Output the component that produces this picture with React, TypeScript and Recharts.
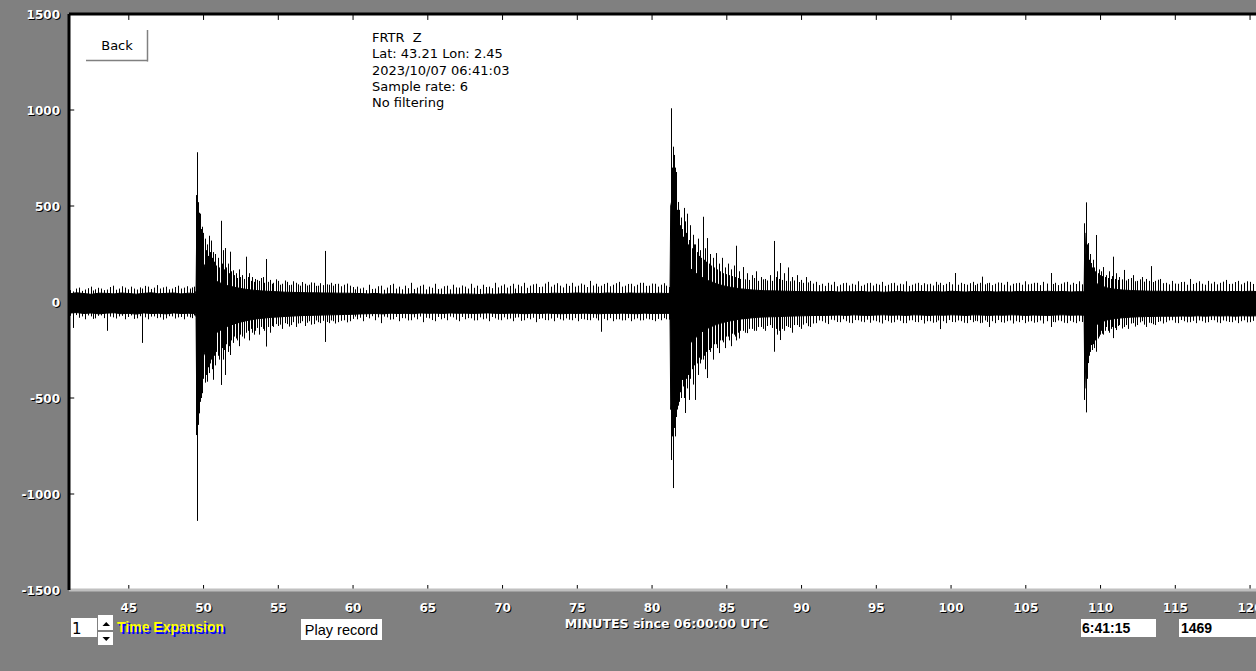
import { ComposedChart, Area, Bar, XAxis, YAxis, ReferenceLine } from "recharts";

// minutes since 06:00 UTC, counts
const minuteTicks = [45, 50, 55, 60, 65, 70, 75, 80, 85, 90, 95, 100, 105, 110, 115, 120];
const countTicks = [-1500, -1000, -500, 0, 500, 1000, 1500];

// solid part of the trace: [minute, top, bottom]
const preEvent1Band = [
  [41, 42, -58], [41.5, 48, -55], [42, 44, -60], [42.5, 40, -57], [43, 46, -62], [43.5, 45, -58],
  [44, 42, -56], [44.5, 47, -61], [45, 44, -59], [45.5, 41, -63], [46, 45, -57], [46.5, 48, -60],
  [47, 43, -59], [47.5, 45, -62], [48, 47, -57], [48.5, 42, -60], [49, 46, -59], [49.45, 44, -60],
];
const event1Band = [
  [49.5, 60, -80], [49.55, 450, -600], [49.65, 330, -430], [49.8, 260, -340], [50, 200, -280],
  [50.2, 165, -240], [50.4, 140, -210], [50.6, 125, -185], [50.8, 112, -165], [51, 102, -152],
  [51.3, 94, -140], [51.6, 86, -128], [52, 78, -115], [52.5, 70, -104], [53, 64, -95],
  [53.5, 60, -88], [54, 57, -84], [54.5, 55, -80], [55, 53, -78], [55.5, 51, -75], [56, 50, -73],
  [56.5, 49, -71], [57, 48, -70], [57.5, 48, -69], [58, 47, -68], [58.5, 47, -67], [59, 46, -66],
  [59.5, 46, -65], [60, 45, -64],
];
const quietBand = [
  [60.5, 44, -62], [61, 42, -61], [61.5, 45, -60], [62, 41, -62], [62.5, 43, -58], [63, 42, -60],
  [63.5, 40, -59], [64, 43, -61], [64.5, 41, -57], [65, 40, -59], [65.5, 42, -58], [66, 39, -60],
  [66.5, 41, -57], [67, 40, -59], [67.5, 42, -58], [68, 41, -60], [68.5, 39, -58], [69, 42, -57],
  [69.5, 40, -59], [70, 43, -60], [70.5, 41, -58], [71, 44, -59], [71.5, 42, -61], [72, 45, -58],
  [72.5, 43, -60], [73, 44, -58], [73.5, 46, -60], [74, 44, -61], [74.5, 45, -59], [75, 47, -60],
  [75.5, 45, -58], [76, 46, -60], [76.5, 44, -61], [77, 47, -59], [77.5, 45, -60], [78, 44, -58],
  [78.5, 47, -60], [79, 45, -61], [79.5, 46, -58], [80, 44, -60], [80.5, 46, -60], [81, 44, -59],
  [81.2, 46, -60],
];
const event2Band = [
  [81.25, 500, -560], [81.35, 540, -500], [81.45, 480, -560], [81.55, 360, -420], [81.75, 280, -330],
  [82, 235, -280], [82.3, 200, -240], [82.6, 172, -210], [83, 146, -180], [83.4, 126, -152],
  [83.8, 110, -134], [84.2, 98, -120], [84.6, 88, -110], [85, 80, -102], [85.5, 73, -94],
  [86, 68, -88], [86.5, 64, -84], [87, 61, -80], [87.5, 59, -78], [88, 58, -77], [88.5, 57, -76],
  [89, 56, -74], [89.5, 55, -73], [90, 54, -72], [90.5, 54, -71], [91, 53, -70],
];
const lateBand = [
  [91.5, 53, -70], [92, 55, -69], [92.5, 52, -68], [93, 54, -70], [93.5, 53, -67], [94, 55, -69],
  [94.5, 52, -70], [95, 54, -68], [95.5, 51, -67], [96, 53, -69], [96.5, 55, -68], [97, 52, -70],
  [97.5, 54, -67], [98, 55, -68], [98.5, 53, -70], [99, 54, -68], [99.5, 52, -69], [100, 56, -67],
  [100.5, 54, -68], [101, 52, -70], [101.5, 55, -67], [102, 53, -68], [102.5, 55, -70], [103, 52, -68],
  [103.5, 54, -69], [104, 52, -67], [104.5, 55, -68], [105, 53, -70], [105.5, 55, -68], [106, 54, -69],
  [106.5, 56, -70], [107, 53, -68], [107.5, 55, -67], [108, 52, -69], [108.5, 54, -68], [108.9, 53, -69],
];
const event3Band = [
  [108.95, 360, -450], [109.05, 210, -250], [109.2, 150, -180], [109.4, 120, -145], [109.7, 98, -120],
  [110, 85, -105], [110.5, 72, -92], [111, 66, -86], [111.5, 62, -82], [112, 60, -79],
  [112.5, 58, -77], [113, 57, -76], [113.5, 56, -75], [114, 56, -74], [114.5, 55, -74], [115, 56, -74],
  [115.5, 54, -73], [116, 56, -74], [116.5, 55, -72], [117, 56, -74], [117.5, 54, -72], [118, 56, -73],
  [118.5, 54, -72], [119, 55, -74], [119.5, 54, -72], [120, 56, -73], [120.5, 54, -72], [121, 55, -72],
];

// single excursions: [minute, top, bottom]
const preEvent1Spikes = [
  [41.1, 62, -72], [41.3, 55, -135], [41.5, 70, -68], [41.7, 75, -82], [41.9, 58, -75], [42.1, 65, -90],
  [42.3, 72, -70], [42.5, 80, -75], [42.65, 60, -88], [42.8, 66, -85], [43, 74, -72], [43.2, 70, -70],
  [43.4, 62, -84], [43.6, 65, -150], [43.8, 78, -76], [44, 85, -80], [44.2, 64, -86], [44.4, 70, -75],
  [44.6, 82, -72], [44.8, 75, -90], [45, 66, -78], [45.2, 80, -70], [45.4, 70, -88], [45.6, 65, -85],
  [45.75, 76, -74], [45.9, 70, -213], [46.1, 84, -80], [46.3, 80, -90], [46.5, 68, -76], [46.7, 75, -75],
  [46.9, 88, -84], [47.1, 70, -80], [47.3, 76, -92], [47.5, 80, -85], [47.7, 66, -74], [47.9, 70, -75],
  [48.1, 78, -86], [48.3, 85, -80], [48.5, 70, -78], [48.7, 75, -90], [48.9, 82, -76], [49.1, 70, -80],
  [49.25, 76, -84], [49.4, 80, -70],
];
const event1Spikes = [
  [49.52, 200, -330], [49.55, 557, -693], [49.58, 780, -1140], [49.62, 450, -600], [49.66, 520, -640],
  [49.7, 465, -545], [49.74, 420, -580], [49.78, 460, -520], [49.84, 380, -500], [49.9, 392, -475],
  [49.96, 300, -440], [50.02, 360, -400], [50.1, 330, -420], [50.17, 270, -380], [50.25, 300, -415],
  [50.32, 240, -340], [50.4, 345, -370], [50.46, 260, -320], [50.52, 320, -300], [50.58, 230, -350],
  [50.65, 260, -405], [50.72, 210, -280], [50.8, 250, -330], [50.9, 190, -260], [51, 230, -280],
  [51.1, 180, -300], [51.2, 423, -432], [51.28, 200, -240], [51.35, 270, -300], [51.42, 170, -250],
  [51.48, 281, -380], [51.56, 180, -220], [51.65, 200, -260], [51.72, 150, -230], [51.77, 262, -276],
  [51.88, 160, -200], [52, 165, -213], [52.1, 140, -180], [52.2, 150, -190], [52.3, 125, -200],
  [52.4, 170, -230], [52.5, 130, -170], [52.6, 140, -180], [52.75, 120, -190], [52.9, 236, -160],
  [53, 130, -150], [53.1, 150, -200], [53.2, 110, -140], [53.3, 130, -160], [53.4, 105, -170],
  [53.5, 120, -150], [53.62, 115, -135], [53.75, 110, -170], [53.88, 125, -130], [54, 130, -140],
  [54.1, 100, -150], [54.22, 224, -232], [54.33, 105, -130], [54.45, 115, -160], [54.58, 95, -125],
  [54.7, 100, -130], [54.85, 118, -115], [55, 110, -125], [55.15, 90, -118], [55.3, 95, -140],
  [55.45, 112, -110], [55.6, 105, -115], [55.75, 88, -128], [55.9, 90, -120], [56.05, 108, -105],
  [56.2, 100, -130], [56.35, 92, -112], [56.5, 85, -110], [56.65, 104, -100], [56.8, 95, -125],
  [56.95, 86, -108], [57.1, 90, -100], [57.25, 102, -118], [57.4, 100, -115], [57.55, 84, -96],
  [57.7, 85, -105], [57.85, 98, -110], [58, 88, -98], [58.15, 266, -208], [58.28, 92, -104],
  [58.4, 90, -110], [58.55, 100, -96], [58.7, 85, -100], [58.85, 94, -112], [59, 95, -105],
  [59.2, 82, -98], [59.4, 90, -95], [59.6, 96, -106], [59.8, 85, -100],
];
const quietSpikes = [
  [60, 78, -88], [60.15, 66, -76], [60.3, 80, -90], [60.5, 70, -82], [60.7, 75, -100], [60.9, 62, -78],
  [61.1, 90, -85], [61.3, 68, -74], [61.5, 70, -95], [61.7, 82, -80], [61.9, 85, -110], [62.1, 64, -76],
  [62.3, 75, -80], [62.5, 88, -92], [62.7, 95, -90], [62.9, 70, -78], [63.1, 80, -100], [63.3, 66, -84],
  [63.5, 85, -85], [63.7, 72, -96], [63.9, 100, -95], [64.1, 68, -80], [64.3, 75, -90], [64.5, 84, -76],
  [64.7, 90, -105], [64.9, 66, -82], [65.1, 80, -85], [65.3, 74, -94], [65.5, 95, -100], [65.7, 68, -78],
  [65.9, 70, -90], [66.1, 82, -84], [66.3, 85, -95], [66.5, 66, -76], [66.7, 90, -80], [66.9, 76, -92],
  [67.1, 75, -100], [67.3, 86, -78], [67.5, 80, -90], [67.7, 70, -84], [67.9, 95, -85], [68.1, 74, -96],
  [68.3, 85, -95], [68.5, 68, -80], [68.7, 90, -90], [68.9, 78, -86], [69.1, 80, -100], [69.3, 72, -78],
  [69.5, 100, -85], [69.7, 76, -92], [69.9, 85, -95], [70.1, 92, -80], [70.3, 75, -90], [70.5, 84, -86],
  [70.7, 95, -100], [70.9, 70, -82], [71.1, 90, -80], [71.3, 82, -98], [71.5, 100, -95], [71.7, 74, -84],
  [71.9, 85, -90], [72.1, 92, -82], [72.3, 95, -105], [72.5, 78, -88], [72.7, 80, -85], [72.9, 96, -94],
  [73.1, 105, -95], [73.3, 80, -86], [73.5, 90, -100], [73.7, 98, -82], [73.9, 85, -90], [74.1, 76, -96],
  [74.3, 95, -85], [74.5, 84, -92], [74.7, 100, -95], [74.9, 80, -84], [75.1, 85, -100], [75.3, 96, -88],
  [75.5, 90, -90], [75.7, 78, -94], [75.9, 110, -95], [76.1, 86, -82], [76.3, 95, -85], [76.45, 80, -96],
  [76.6, 85, -155], [76.8, 94, -88], [77, 100, -95], [77.2, 82, -84], [77.4, 90, -100], [77.6, 98, -90],
  [77.8, 105, -90], [78, 80, -96], [78.2, 85, -95], [78.4, 94, -84], [78.6, 95, -100], [78.8, 82, -90],
  [79, 90, -85], [79.2, 100, -96], [79.4, 100, -95], [79.6, 84, -86], [79.8, 85, -90], [80, 96, -94],
  [80.2, 95, -100], [80.4, 80, -88], [80.6, 90, -95], [80.8, 98, -84], [81, 85, -90], [81.15, 78, -92],
];
const event2Spikes = [
  [81.27, 1009, -823], [81.34, 700, -700], [81.42, 809, -969], [81.5, 766, -656], [81.54, 600, -700],
  [81.58, 700, -620], [81.65, 677, -599], [81.7, 480, -560], [81.75, 521, -480], [81.8, 420, -540],
  [81.85, 480, -520], [81.9, 400, -470], [81.95, 440, -460], [82, 360, -500], [82.05, 380, -406],
  [82.1, 340, -440], [82.15, 490, -500], [82.21, 330, -420], [82.27, 420, -578], [82.33, 360, -400],
  [82.4, 460, -450], [82.45, 300, -380], [82.5, 323, -510], [82.55, 360, -360], [82.6, 400, -400],
  [82.68, 280, -350], [82.75, 350, -430], [82.85, 300, -330], [82.94, 300, -510], [83.02, 260, -320],
  [83.1, 330, -380], [83.18, 240, -290], [83.25, 270, -320], [83.33, 230, -300], [83.41, 444, -300],
  [83.48, 220, -280], [83.55, 280, -350], [83.65, 210, -260], [83.74, 333, -396], [83.82, 200, -250],
  [83.9, 250, -260], [84, 190, -240], [84.1, 230, -300], [84.2, 180, -220], [84.3, 255, -220],
  [84.4, 170, -240], [84.5, 200, -266], [84.6, 160, -200], [84.7, 230, -200], [84.8, 150, -210],
  [84.9, 180, -240], [85, 145, -180], [85.1, 200, -180], [85.2, 140, -200], [85.3, 170, -230],
  [85.4, 135, -165], [85.5, 190, -170], [85.58, 130, -180], [85.66, 293, -200], [85.75, 125, -160],
  [85.85, 160, -190], [85.95, 120, -150], [86.1, 182, -150], [86.25, 118, -160], [86.4, 150, -162],
  [86.55, 115, -140], [86.7, 140, -140], [86.85, 125, -150], [87, 160, -150], [87.15, 110, -130],
  [87.3, 130, -130], [87.45, 118, -140], [87.6, 120, -150], [87.75, 112, -125], [87.9, 140, -120],
  [88.05, 110, -135], [88.22, 318, -259], [88.3, 130, -140], [88.4, 160, -170], [88.5, 120, -150],
  [88.6, 203, -198], [88.72, 115, -140], [88.85, 150, -150], [88.98, 110, -125], [89.1, 180, -130],
  [89.25, 108, -135], [89.4, 130, -160], [89.55, 112, -120], [89.7, 140, -120], [89.85, 104, -130],
  [90, 115, -140], [90.15, 100, -118], [90.3, 130, -110], [90.45, 102, -126], [90.6, 110, -130],
  [90.8, 96, -112],
];
const lateSpikes = [
  [91, 105, -110], [91.2, 88, -96], [91.4, 95, -100], [91.6, 84, -108], [91.8, 100, -115], [92, 90, -92],
  [92.2, 105, -95], [92.4, 82, -104], [92.6, 90, -105], [92.8, 98, -90], [93, 100, -100], [93.2, 86, -108],
  [93.4, 95, -110], [93.6, 90, -94], [93.8, 108, -95], [94, 84, -102], [94.2, 90, -105], [94.4, 98, -92],
  [94.6, 100, -108], [94.8, 86, -96], [95, 95, -100], [95.2, 90, -106], [95.4, 105, -112], [95.6, 84, -94],
  [95.8, 90, -100], [96, 98, -108], [96.2, 100, -105], [96.4, 86, -92], [96.6, 95, -98], [96.8, 92, -110],
  [97, 108, -110], [97.2, 84, -96], [97.4, 90, -95], [97.6, 96, -104], [97.8, 100, -105], [98, 88, -94],
  [98.2, 98, -112], [98.4, 92, -100], [98.6, 95, -100], [98.8, 86, -108], [99, 105, -105], [99.15, 90, -96],
  [99.3, 100, -141], [99.5, 88, -100], [99.7, 95, -110], [99.9, 104, -94], [100.1, 92, -104], [100.3, 151, -105],
  [100.5, 90, -96], [100.7, 100, -100], [100.9, 94, -108], [101.1, 90, -110], [101.3, 98, -94],
  [101.5, 105, -105], [101.65, 88, -98], [101.8, 95, -100], [101.95, 100, -110], [102.1, 132, -108],
  [102.3, 92, -96], [102.45, 98, -104], [102.6, 100, -130], [102.8, 88, -100], [103, 95, -110],
  [103.2, 102, -94], [103.4, 100, -105], [103.6, 90, -108], [103.8, 105, -100], [104, 86, -96],
  [104.2, 95, -112], [104.4, 98, -100], [104.6, 100, -105], [104.8, 90, -94], [105, 108, -110],
  [105.2, 92, -102], [105.4, 95, -100], [105.6, 100, -108], [105.8, 100, -105], [106, 88, -96],
  [106.2, 105, -112], [106.45, 96, -100], [106.7, 151, -130], [106.85, 94, -104], [107, 100, -105],
  [107.2, 88, -96], [107.4, 95, -100], [107.6, 102, -108], [107.8, 105, -110], [108, 90, -98],
  [108.2, 100, -105], [108.4, 94, -110], [108.6, 108, -100], [108.8, 92, -104],
];
const event3Spikes = [
  [108.96, 410, -510], [109.03, 519, -575], [109.07, 380, -460], [109.1, 300, -400], [109.14, 260, -350],
  [109.18, 307, -318], [109.24, 220, -280], [109.3, 250, -260], [109.35, 190, -230], [109.4, 203, -224],
  [109.45, 180, -250], [109.5, 220, -200], [109.55, 170, -220], [109.6, 180, -240], [109.68, 160, -200],
  [109.76, 349, -259], [109.83, 150, -190], [109.9, 170, -180], [109.98, 140, -170], [110.05, 160, -150],
  [110.12, 135, -165], [110.2, 182, -170], [110.3, 130, -150], [110.4, 140, -130], [110.5, 125, -150],
  [110.6, 160, -160], [110.7, 120, -140], [110.8, 135, -130], [110.9, 236, -188], [111, 120, -135],
  [111.1, 150, -146], [111.2, 115, -125], [111.3, 130, -120], [111.45, 118, -138], [111.6, 167, -130],
  [111.75, 112, -120], [111.9, 120, -140], [112.05, 125, -112], [112.2, 140, -110], [112.35, 108, -128],
  [112.5, 110, -120], [112.65, 118, -106], [112.8, 130, -100], [112.95, 106, -118], [113.1, 120, -130],
  [113.25, 110, -108], [113.42, 187, -110], [113.55, 104, -116], [113.7, 110, -120], [113.85, 116, -104],
  [114, 120, -100], [114.2, 98, -112],
];
const tailSpikes = [
  [114.4, 100, -105], [114.6, 92, -96], [114.8, 110, -95], [115, 96, -108], [115.2, 95, -110],
  [115.4, 104, -94], [115.6, 105, -100], [115.8, 90, -106], [116, 120, -105], [116.2, 94, -98],
  [116.4, 100, -110], [116.6, 108, -96], [116.8, 95, -100], [117, 90, -108], [117.2, 110, -105],
  [117.4, 96, -94], [117.6, 105, -95], [117.8, 92, -106], [118, 100, -110], [118.2, 106, -96],
  [118.4, 115, -100], [118.6, 94, -104], [118.8, 95, -105], [119, 104, -96], [119.2, 110, -110],
  [119.4, 92, -100], [119.6, 100, -95], [119.8, 108, -106], [120, 105, -105], [120.2, 94, -98],
  [120.4, 95, -100], [120.6, 102, -108], [120.8, 100, -105],
];

const stationLines = ["FRTR  Z", "Lat: 43.21 Lon: 2.45", "2023/10/07 06:41:03", "Sample rate: 6", "No filtering"];

const bandRows = [...preEvent1Band, ...event1Band, ...quietBand, ...event2Band, ...lateBand, ...event3Band].map(
  ([minute, top, bottom]) => ({ minute, band: [bottom, top] })
);
const spikeRows = [
  ...preEvent1Spikes, ...event1Spikes, ...quietSpikes, ...event2Spikes, ...lateSpikes, ...event3Spikes, ...tailSpikes,
].map(([minute, top, bottom]) => ({ minute, spike: [bottom, top] }));
const rows: any[] = [...bandRows, ...spikeRows].sort((a, b) => a.minute - b.minute);

const labelFont = { fontFamily: "DejaVu Sans", fontWeight: "bold" as const, fontSize: 12 };

function MinuteTick({ x, y, payload }: any) {
  return (
    <g>
      <text x={x + 1} y={y + 1} textAnchor="middle" fill="#000" {...labelFont}>{payload.value}</text>
      <text x={x} y={y} textAnchor="middle" fill="#fff" {...labelFont}>{payload.value}</text>
    </g>
  );
}

function CountTick({ x, y, payload }: any) {
  return (
    <g>
      <text x={x + 1} y={y + 5.5} textAnchor="end" fill="#000" {...labelFont}>{payload.value}</text>
      <text x={x} y={y + 4.5} textAnchor="end" fill="#fff" {...labelFont}>{payload.value}</text>
    </g>
  );
}

// each sample drawn as a one-pixel vertical stroke at the bar's centre
function SpikeShape({ x, y, width, height }: any) {
  if (height == null || !isFinite(height)) return null;
  const top = height < 0 ? y + height : y;
  return <rect x={Math.floor(x + width / 2)} y={top} width={1} height={Math.abs(height)} fill="#000" />;
}

function Overlay() {
  const sans = "Liberation Sans";
  return (
    <svg width={1256} height={671} style={{ position: "absolute", left: 0, top: 0, pointerEvents: "none" }}>
      {/* Back button */}
      <rect x={86} y={30} width={62} height={31} fill="#fff" />
      <line x1={147.5} y1={30} x2={147.5} y2={61.5} stroke="#808080" strokeWidth={1.5} />
      <line x1={86} y1={60.5} x2={148} y2={60.5} stroke="#808080" strokeWidth={1.5} />
      <text x={117} y={50} textAnchor="middle" fontFamily="DejaVu Sans" fontSize={13} fill="#000">Back</text>

      {stationLines.map((line, i) => (
        <text key={i} x={372} y={42 + i * 16.3} fontFamily="DejaVu Sans" fontSize={13} fill="#000" style={{ whiteSpace: "pre" }}>
          {line}
        </text>
      ))}

      {/* expansion control */}
      <rect x={71} y={618} width={26} height={19} fill="#fff" />
      <text x={72} y={634} fontFamily="DejaVu Sans" fontSize={15} fill="#000">1</text>
      <rect x={98} y={615} width={15} height={15} fill="#fff" />
      <path d="M102.5 626 L110 626 L106.25 622 Z" fill="#000" />
      <rect x={98} y={632} width={15} height={13} fill="#fff" />
      <path d="M102.5 637 L110 637 L106.25 641 Z" fill="#000" />
      <text x={119} y={634} fontFamily={sans} fontWeight="bold" fontSize={14} fill="#0000ff">Time Expansion</text>
      <text x={117} y={632} fontFamily={sans} fontWeight="bold" fontSize={14} fill="#ffff00">Time Expansion</text>

      <rect x={301} y={619} width={81} height={21} fill="#fff" />
      <text x={341.5} y={635} textAnchor="middle" fontFamily={sans} fontSize={14.5} fill="#000">Play record</text>

      <text x={667.5} y={629} textAnchor="middle" fill="#000" fontFamily="DejaVu Sans" fontWeight="bold" fontSize={12.5}>
        MINUTES since 06:00:00 UTC
      </text>
      <text x={666.5} y={628} textAnchor="middle" fill="#fff" fontFamily="DejaVu Sans" fontWeight="bold" fontSize={12.5}>
        MINUTES since 06:00:00 UTC
      </text>

      <rect x={1081} y={619} width={75} height={18} fill="#fff" />
      <text x={1082} y={632.5} fontFamily={sans} fontWeight="bold" fontSize={14} fill="#000">6:41:15</text>
      <rect x={1179} y={619} width={80} height={18} fill="#fff" />
      <text x={1181} y={632.5} fontFamily={sans} fontWeight="bold" fontSize={14} fill="#000">1469</text>
    </svg>
  );
}

export default function App() {
  return (
    <div style={{ position: "fixed", left: 0, top: 0, width: 1256, height: 671, overflow: "hidden", background: "#808080" }}>
      {/* white plot face behind the transparent chart */}
      <div style={{ position: "absolute", left: 69, top: 14, width: 1196, height: 576, background: "#fff" }} />
      <div style={{ position: "absolute", left: 0, top: 0 }}>
        <ComposedChart width={1270} height={671} data={rows} margin={{ top: 13, right: 5, bottom: 0, left: 0 }}>
          <XAxis
            dataKey="minute"
            type="number"
            domain={[41, 121]}
            allowDataOverflow
            ticks={minuteTicks}
            height={81}
            axisLine={{ stroke: "#c0c0c0", strokeWidth: 3 }}
            tickLine={false}
            tickSize={-5}
            tickMargin={27}
            tick={<MinuteTick />}
            interval={0}
          />
          <XAxis
            xAxisId="top"
            orientation="top"
            dataKey="minute"
            type="number"
            domain={[41, 121]}
            allowDataOverflow
            ticks={minuteTicks}
            height={1}
            axisLine={{ stroke: "#000", strokeWidth: 3 }}
            tickLine={false}
            tick={false}
            interval={0}
          />
          <YAxis
            type="number"
            domain={[-1500, 1500]}
            allowDataOverflow
            ticks={countTicks}
            width={69}
            axisLine={{ stroke: "#000", strokeWidth: 3 }}
            tickLine={false}
            tickSize={-5}
            tickMargin={14}
            tick={<CountTick />}
            interval={0}
          />
          {/* inward tick marks */}
          {minuteTicks.map((m) => (
            <ReferenceLine key={`b${m}`} segment={[{ x: m, y: -1500 }, { x: m, y: -1474 }]} stroke="#000" />
          ))}
          {minuteTicks.map((m) => (
            <ReferenceLine key={`t${m}`} segment={[{ x: m, y: 1500 }, { x: m, y: 1469 }]} stroke="#000" />
          ))}
          {countTicks.map((c) => (
            <ReferenceLine key={`l${c}`} segment={[{ x: 41, y: c }, { x: 41.35, y: c }]} stroke="#000" />
          ))}
          <Area
            dataKey="band"
            type="linear"
            stroke="#000"
            strokeWidth={1}
            fill="#000"
            fillOpacity={1}
            connectNulls
            dot={false}
            activeDot={false}
            isAnimationActive={false}
          />
          <Bar dataKey="spike" fill="#000" barSize={1} shape={<SpikeShape />} isAnimationActive={false} />
        </ComposedChart>
      </div>
      <Overlay />
    </div>
  );
}
